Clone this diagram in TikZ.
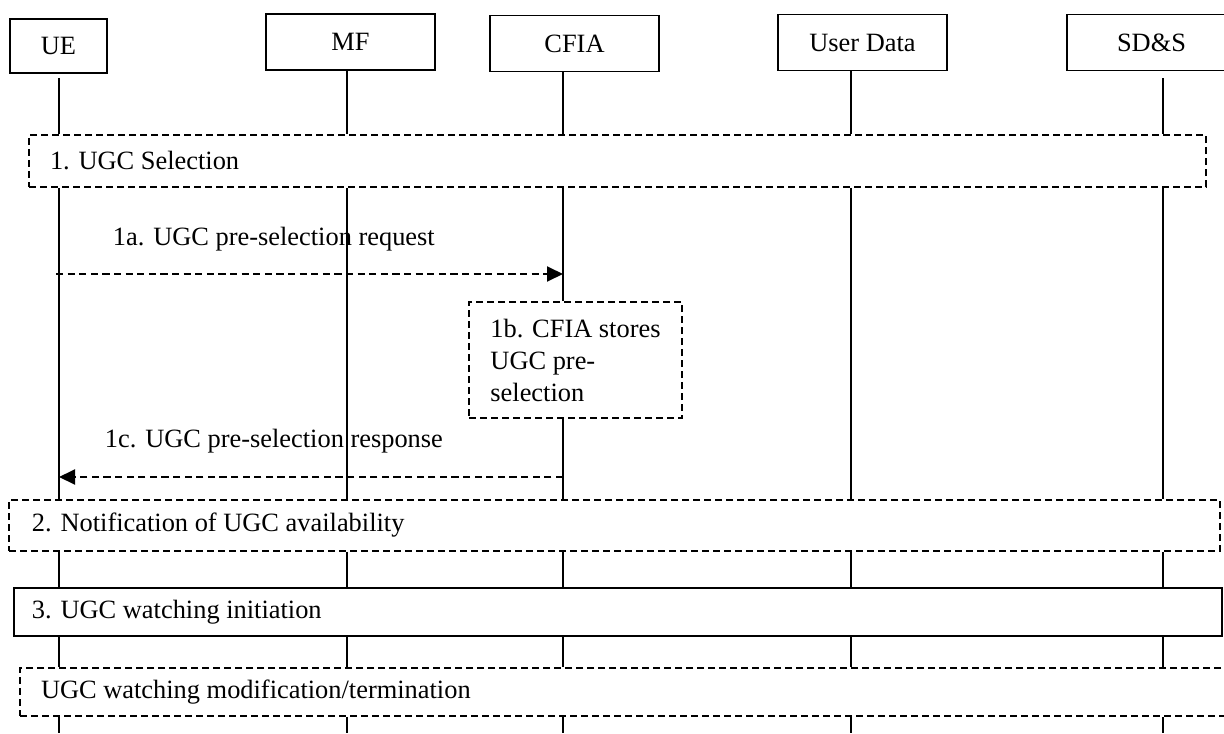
\documentclass[tikz,border=0pt]{standalone}
\usepackage{fontspec}
\setmainfont{Liberation Serif}
\usepackage{tikz}
\usetikzlibrary{arrows.meta, positioning, calc}
\tikzset{
  base_n/.style = {font=\fontsize{13.2pt}{16pt}\selectfont, line width=0.95pt},
  ent_n/.style = {base_n, rectangle, draw=black, minimum width=84.5pt, minimum height=28pt, inner sep=0pt},
  grp_d/.style = {base_n, rectangle, draw=black, dash pattern=on 3.5pt off 2pt, inner sep=0pt},
  grp_s/.style = {base_n, rectangle, draw=black, inner sep=0pt},
  grp_t/.style = {base_n, anchor=west, inner sep=0pt},
  act_d/.style = {base_n, rectangle, draw=black, dash pattern=on 3.5pt off 2pt, align=left, minimum width=106.5pt, minimum height=58pt},
  msg_a/.style = {line width=0.95pt, dash pattern=on 3.6pt off 2.2pt, -{Triangle[length=8pt, width=7.5pt]}},
  msg_t/.style = {base_n, anchor=base west, inner sep=0pt},
  life_l/.style = {line width=0.95pt}
}

\begin{document}
\begin{tikzpicture}[x=0.5pt, y=-0.5pt]
  \useasboundingbox (0,0) rectangle (1224,733);
  \clip (0,0) rectangle (1224,733);
  % entities
  \node [ent_n, minimum width=48.5pt, minimum height=27pt] (ue) at (58.5,46) {UE};
  \node [ent_n] (mf) at (350.5,42) {MF};
  \node [ent_n] (cfia) at (574.5,43.5) {CFIA};
  \node [ent_n] (ud) at (862.5,42.5) {User Data};
  \node [ent_n] (sds) at (1151.5,42.5) {SD\&S};
  % lifeline positions
  \coordinate (ue_x) at (59,0);
  \coordinate (mf_x) at (347,0);
  \coordinate (cfia_x) at (563,0);
  \coordinate (ud_x) at (851,0);
  \coordinate (sds_x) at (1163,0);
  \coordinate (bot) at (0,733);
  % phases
  \node [grp_d, minimum width=588.5pt, minimum height=26pt] (g1) at (617.5,161) {};
  \node [grp_t] (g1_t) at ([xshift=10.5pt]g1.west) {1. UGC Selection};
  \node [grp_d, minimum width=605.5pt, minimum height=25.5pt] (g2) at (614.5,525.5) {};
  \node [grp_t] (g2_t) at ([xshift=11.5pt]g2.west) {2. Notification of UGC availability};
  \node [grp_s, minimum width=604pt, minimum height=24pt] (g3) at (618,612) {};
  \node [grp_t] (g3_t) at ([xshift=9pt]g3.west) {3. UGC watching initiation};
  \node [grp_d, minimum width=610pt, minimum height=24pt] (g4) at (630,692) {};
  \node [grp_t] (g4_t) at ([xshift=10.5pt]g4.west) {UGC watching modification/termination};
  % local action
  \node [act_d] (s1b) at (575.5,360) {1b. CFIA stores\\UGC pre-\\selection};
  % lifelines
  \draw [life_l] ([yshift=-2pt]ue_x |- ue.south) -- (ue_x |- g1.north)
                 (ue_x |- g1.south) -- (ue_x |- g2.north)
                 (ue_x |- g2.south) -- (ue_x |- g3.north)
                 (ue_x |- g3.south) -- (ue_x |- g4.north)
                 (ue_x |- g4.south) -- (ue_x |- bot);
  \draw [life_l] (mf_x |- mf.south) -- (mf_x |- g1.north)
                 (mf_x |- g1.south) -- (mf_x |- g2.north)
                 (mf_x |- g2.south) -- (mf_x |- g3.north)
                 (mf_x |- g3.south) -- (mf_x |- g4.north)
                 (mf_x |- g4.south) -- (mf_x |- bot);
  \draw [life_l] (cfia_x |- cfia.south) -- (cfia_x |- g1.north)
                 (cfia_x |- g1.south) -- (cfia_x |- s1b.north)
                 (cfia_x |- s1b.south) -- (cfia_x |- g2.north)
                 (cfia_x |- g2.south) -- (cfia_x |- g3.north)
                 (cfia_x |- g3.south) -- (cfia_x |- g4.north)
                 (cfia_x |- g4.south) -- (cfia_x |- bot);
  \draw [life_l] (ud_x |- ud.south) -- (ud_x |- g1.north)
                 (ud_x |- g1.south) -- (ud_x |- g2.north)
                 (ud_x |- g2.south) -- (ud_x |- g3.north)
                 (ud_x |- g3.south) -- (ud_x |- g4.north)
                 (ud_x |- g4.south) -- (ud_x |- bot);
  \draw [life_l] ([yshift=-3.5pt]sds_x |- sds.south) -- (sds_x |- g1.north)
                 (sds_x |- g1.south) -- (sds_x |- g2.north)
                 (sds_x |- g2.south) -- (sds_x |- g3.north)
                 (sds_x |- g3.south) -- (sds_x |- g4.north)
                 (sds_x |- g4.south) -- (sds_x |- bot);
  % messages
  \coordinate (m1a) at (0,274);
  \coordinate (m1c) at (0,477);
  \draw [msg_a] ([xshift=-1.5pt]ue_x |- m1a) -- (cfia_x |- m1a);
  \node [msg_t] (m1a_t) at (112,245) {1a. UGC pre-selection request};
  \draw [msg_a] (cfia_x |- m1c) -- (ue_x |- m1c);
  \node [msg_t] (m1c_t) at (104,447) {1c. UGC pre-selection response};
\end{tikzpicture}
\end{document}
